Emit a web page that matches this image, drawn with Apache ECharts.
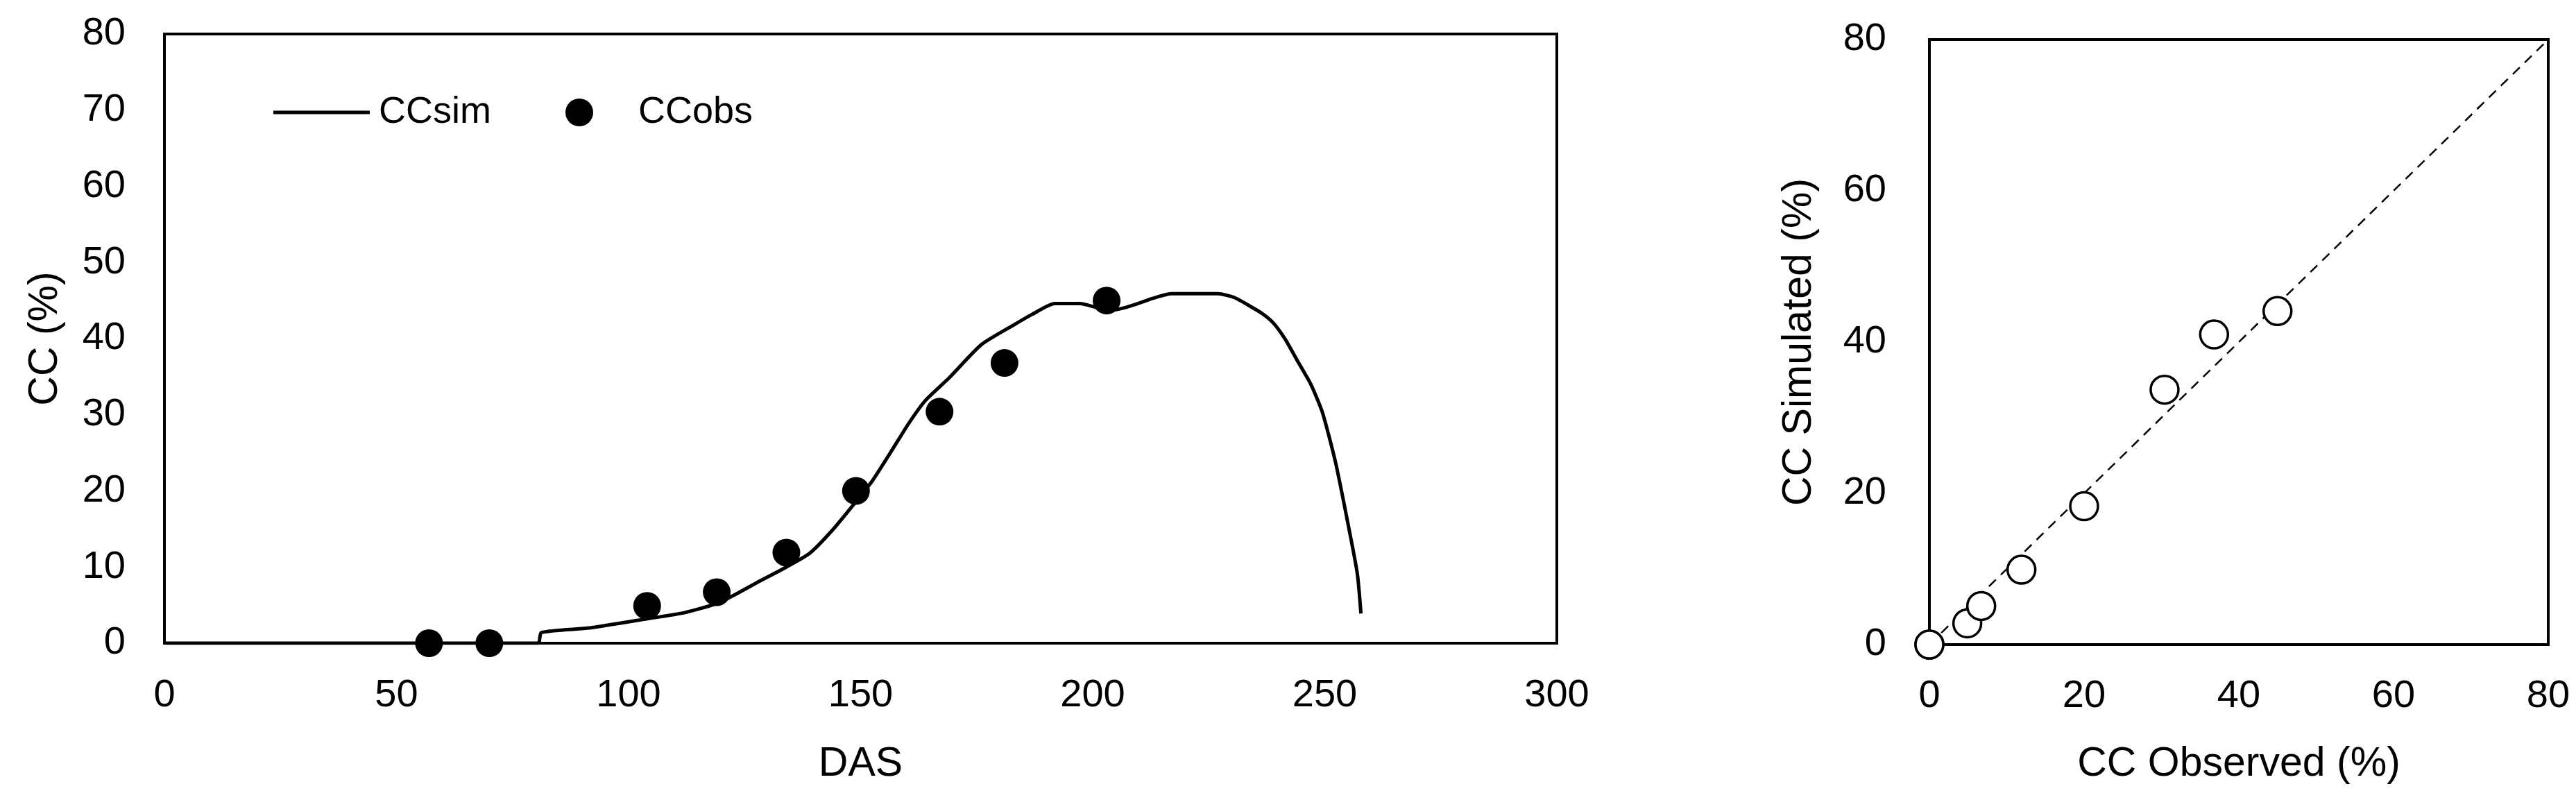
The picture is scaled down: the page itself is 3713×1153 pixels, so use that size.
<!DOCTYPE html>
<html>
<head>
<meta charset="utf-8">
<script src="https://cdn.jsdelivr.net/npm/echarts@6/dist/echarts.min.js"></script>
<style>
  html, body { margin: 0; padding: 0; background: #fff; }
  #main { width: 3713px; height: 1153px; }
</style>
</head>
<body>
<div id="main"></div>
<script>
  // CCsim curve (DAS, CC %)
  var simDays = [0, 80.5, 81.2, 91.6, 104, 112, 119, 123, 127.5, 134, 139, 144, 149, 152.5, 156.4, 160.4, 164, 169, 176, 183.3, 187, 191.8, 197.3, 200.7, 203.7, 206.5, 209.7, 213, 217, 227, 230.5, 233.5, 236.5, 239, 241.5, 244, 247, 249.5, 252.3, 255, 257, 257.8];
  var simCC = [0, 0, 1.4, 2.0, 3.2, 4.0, 5.2, 6.4, 7.9, 10.0, 11.8, 14.9, 18.6, 21.3, 25.0, 28.9, 31.9, 34.8, 39.2, 41.9, 43.2, 44.6, 44.6, 44.1, 43.7, 44.0, 44.6, 45.3, 45.9, 45.9, 45.4, 44.4, 43.3, 42.0, 39.9, 37.2, 34.0, 30.3, 23.8, 15.7, 9.2, 3.9];

  // observed points
  var obsDays = [57, 70, 104, 119, 134, 149, 167, 181, 203];
  var obsCC = [0, 0, 4.9, 6.7, 11.9, 20.0, 30.4, 36.8, 45.0];
  // simulated CC at the observation days (right panel)
  var simAtObs = [0, 0, 2.8, 5.1, 9.9, 18.3, 33.7, 41.0, 44.1];

  var oneToOne = [0, 80];

  var FONT = "'Liberation Sans Narrow', 'Arial Narrow', 'Liberation Sans', Arial, sans-serif";

  var myChart = echarts.init(document.getElementById('main'));

  var lineData = simDays.map(function (d, i) { return [d, simCC[i]]; });
  var obsData = obsDays.map(function (d, i) { return [d, obsCC[i]]; });
  var scatterData = obsCC.map(function (v, i) { return [v, simAtObs[i]]; });
  var diagData = oneToOne.map(function (v) { return [v, v]; });

  var labelStyle = { color: '#000', fontSize: 56, fontFamily: FONT };
  var nameStyle = { color: '#000', fontSize: 59, fontFamily: FONT };

  var option = {
    backgroundColor: '#fff',
    animation: false,
    legend: [{
      data: [{ name: 'CCsim', icon: 'rect' }],
      left: 389,
      top: 130,
      itemWidth: 139,
      itemHeight: 5,
      itemStyle: { color: '#000' },
      textStyle: { color: '#000', fontSize: 54, fontFamily: FONT, padding: [0, 0, 0, 8] }
    }, {
      data: [{ name: 'CCobs', icon: 'circle' }],
      left: 810,
      top: 130,
      itemWidth: 40,
      itemHeight: 40,
      textStyle: { color: '#000', fontSize: 54, fontFamily: FONT, padding: [0, 0, 0, 60] }
    }],
    grid: [{
      left: 237, top: 49, width: 2007, height: 878,
      show: true, borderColor: '#000', borderWidth: 4, backgroundColor: 'transparent'
    }, {
      left: 2781, top: 57, width: 892, height: 872,
      show: true, borderColor: '#000', borderWidth: 4, backgroundColor: 'transparent'
    }],
    xAxis: [{
      gridIndex: 0, type: 'value', min: 0, max: 300, interval: 50,
      name: 'DAS', nameLocation: 'middle', nameGap: 145, nameTextStyle: nameStyle,
      axisLine: { show: false }, axisTick: { show: false }, splitLine: { show: false },
      axisLabel: Object.assign({ margin: 48 }, labelStyle)
    }, {
      gridIndex: 1, type: 'value', min: 0, max: 80, interval: 20,
      name: 'CC Observed (%)', nameLocation: 'middle', nameGap: 143, nameTextStyle: nameStyle,
      axisLine: { show: false }, axisTick: { show: false }, splitLine: { show: false },
      axisLabel: Object.assign({ margin: 47 }, labelStyle)
    }],
    yAxis: [{
      gridIndex: 0, type: 'value', min: 0, max: 80, interval: 10,
      name: 'CC (%)', nameLocation: 'middle', nameGap: 142, nameTextStyle: nameStyle,
      axisLine: { show: false }, axisTick: { show: false }, splitLine: { show: false },
      axisLabel: Object.assign({ margin: 56 }, labelStyle)
    }, {
      gridIndex: 1, type: 'value', min: 0, max: 80, interval: 20,
      name: 'CC Simulated (%)', nameLocation: 'middle', nameGap: 158, nameTextStyle: nameStyle,
      axisLine: { show: false }, axisTick: { show: false }, splitLine: { show: false },
      axisLabel: Object.assign({ margin: 62 }, labelStyle)
    }],
    series: [{
      name: 'CCsim',
      type: 'line',
      xAxisIndex: 0, yAxisIndex: 0,
      data: lineData,
      symbol: 'none',
      smooth: 0.2,
      lineStyle: { color: '#000', width: 5 },
      itemStyle: { color: '#000' },
      z: 3
    }, {
      name: 'CCobs',
      type: 'scatter',
      xAxisIndex: 0, yAxisIndex: 0,
      data: obsData,
      symbol: 'circle',
      symbolSize: 40,
      itemStyle: { color: '#000', opacity: 1 },
      z: 4
    }, {
      name: '1:1',
      type: 'line',
      xAxisIndex: 1, yAxisIndex: 1,
      data: diagData,
      symbol: 'none',
      lineStyle: { color: '#000', width: 2.5, type: [14, 10] },
      z: 3
    }, {
      name: 'CC sim vs obs',
      type: 'scatter',
      xAxisIndex: 1, yAxisIndex: 1,
      data: scatterData,
      symbol: 'circle',
      symbolSize: 40,
      itemStyle: { color: '#fff', borderColor: '#000', borderWidth: 3.5, opacity: 1 },
      z: 4
    }]
  };

  myChart.setOption(option);
</script>
</body>
</html>
